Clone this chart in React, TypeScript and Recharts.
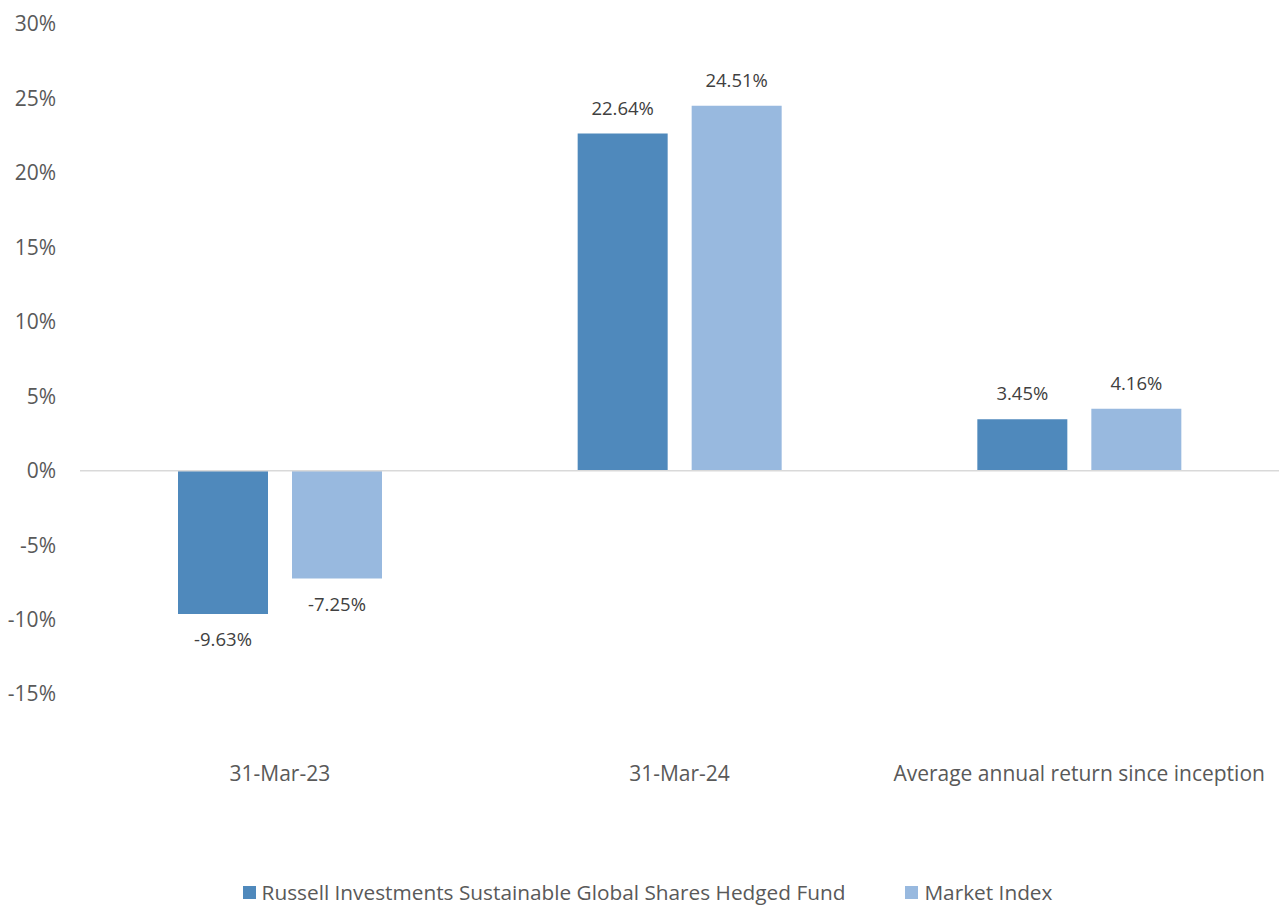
import React from "react";
import {
  BarChart,
  Bar,
  XAxis,
  YAxis,
  Legend,
  LabelList,
  ReferenceLine,
} from "recharts";

const categories = ["31-Mar-23", "31-Mar-24", "Average annual return since inception"];
const fundReturns = [-9.63, 22.64, 3.45];
const indexReturns = [-7.25, 24.51, 4.16];
const yTicks = [-15, -10, -5, 0, 5, 10, 15, 20, 25, 30];

const FUND_NAME = "Russell Investments Sustainable Global Shares Hedged Fund";
const INDEX_NAME = "Market Index";

const data = categories.map((c, i) => ({
  category: c,
  fund: fundReturns[i],
  index: indexReturns[i],
}));

const FONT = "'Open Sans', sans-serif";

const renderLabel = (props: any) => {
  const { x, y, width, height, value } = props;
  const top = Math.min(y, y + height);
  const bottom = Math.max(y, y + height);
  const cx = x + width / 2;
  const ty = value >= 0 ? top - 24 : bottom + 27;
  return (
    <text
      x={cx}
      y={ty}
      textAnchor="middle"
      dominantBaseline="middle"
      fill="#404040"
      fontSize={18.5}
      fontFamily={FONT}
    >
      {value.toFixed(2)}%
    </text>
  );
};

const renderLegend = () => {
  const items = [
    { name: FUND_NAME, color: "#4F89BC" },
    { name: INDEX_NAME, color: "#98B9DF" },
  ];
  return (
    <div
      style={{
        display: "flex",
        justifyContent: "center",
        paddingLeft: 16,
        fontFamily: FONT,
        fontSize: 20.8,
        color: "#595959",
        lineHeight: "26px",
      }}
    >
      {items.map((it, i) => (
        <div key={it.name} style={{ display: "flex", alignItems: "center", marginRight: i === 0 ? 60 : 0 }}>
          <span style={{ width: 13, height: 13, background: it.color, display: "inline-block", marginRight: 6 }} />
          <span>{it.name}</span>
        </div>
      ))}
    </div>
  );
};

export default function App() {
  return (
    <div style={{ position: "absolute", left: 0, top: 0, width: 1279, height: 905, background: "#fff" }}>
      <BarChart
        width={1279}
        height={905}
        data={data}
        margin={{ top: 24, right: 0, bottom: 0, left: 0 }}
        barSize={90}
        barGap={24}
      >
        <XAxis
          dataKey="category"
          axisLine={false}
          tickLine={false}
          tickSize={0}
          tickMargin={72}
          height={185}
          interval={0}
          tick={{ fill: "#595959", fontSize: 21, fontFamily: FONT }}
        />
        <YAxis
          width={80}
          domain={[-15, 30]}
          ticks={yTicks}
          axisLine={false}
          tickLine={false}
          tickSize={0}
          tickMargin={24}
          tickFormatter={(v) => `${v}%`}
          tick={{ fill: "#595959", fontSize: 21, fontFamily: FONT }}
        />
        <ReferenceLine y={0} stroke="#D9D9D9" strokeWidth={1.5} />
        <Legend verticalAlign="bottom" height={26} content={renderLegend} />
        <Bar dataKey="fund" name={FUND_NAME} fill="#4F89BC" isAnimationActive={false}>
          <LabelList dataKey="fund" content={renderLabel} />
        </Bar>
        <Bar dataKey="index" name={INDEX_NAME} fill="#98B9DF" isAnimationActive={false}>
          <LabelList dataKey="index" content={renderLabel} />
        </Bar>
      </BarChart>
    </div>
  );
}
